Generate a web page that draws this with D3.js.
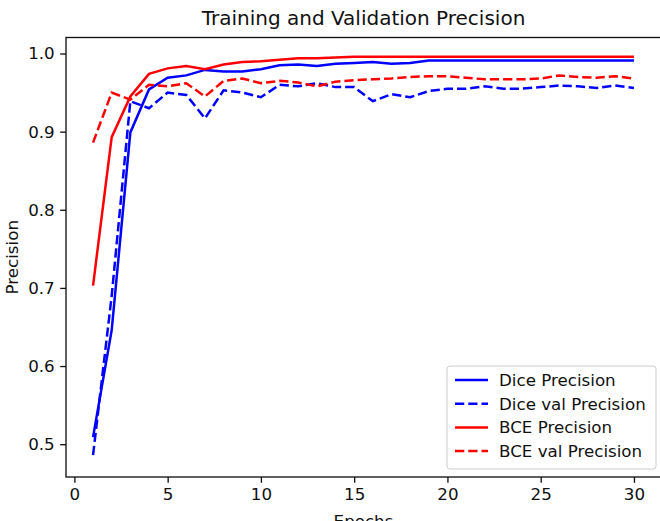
<!DOCTYPE html>
<html>
<head>
<meta charset="utf-8">
<script src="https://cdn.jsdelivr.net/npm/d3@7"></script>
<style>
  body { margin: 0; background: #fff; }
  text { font-family: "DejaVu Sans", sans-serif; fill: #111; }
</style>
</head>
<body>
<svg id="chart" width="660" height="521"></svg>
<script>
// values, one per epoch
var epochs = d3.range(1, 31);
var dice_train = [0.509, 0.646, 0.899, 0.954, 0.969, 0.972, 0.979, 0.977, 0.977, 0.980,
                  0.985, 0.986, 0.984, 0.987, 0.988, 0.989, 0.987, 0.988, 0.991, 0.991,
                  0.991, 0.991, 0.991, 0.991, 0.991, 0.991, 0.991, 0.991, 0.991, 0.991];
var dice_val = [0.486, 0.690, 0.939, 0.930, 0.950, 0.947, 0.917, 0.953, 0.950, 0.944,
                0.960, 0.958, 0.962, 0.957, 0.957, 0.939, 0.948, 0.944, 0.952, 0.955,
                0.955, 0.958, 0.955, 0.955, 0.957, 0.959, 0.958, 0.956, 0.959, 0.956];
var bce_train = [0.703, 0.893, 0.945, 0.974, 0.981, 0.984, 0.980, 0.986, 0.989, 0.990,
                 0.992, 0.994, 0.994, 0.995, 0.996, 0.996, 0.996, 0.996, 0.996, 0.996,
                 0.996, 0.996, 0.996, 0.996, 0.996, 0.996, 0.996, 0.996, 0.996, 0.996];
var bce_val = [0.886, 0.950, 0.941, 0.960, 0.958, 0.962, 0.945, 0.965, 0.968, 0.962,
               0.965, 0.963, 0.958, 0.964, 0.966, 0.967, 0.968, 0.970, 0.971, 0.971,
               0.969, 0.967, 0.967, 0.967, 0.968, 0.972, 0.970, 0.969, 0.971, 0.968];
var x_ticks = [0, 5, 10, 15, 20, 25, 30];
var y_ticks = [0.5, 0.6, 0.7, 0.8, 0.9, 1.0];

var series = [
    {name: "Dice Precision", values: dice_train, color: "#0000ff", dash: null},
    {name: "Dice val Precision", values: dice_val, color: "#0000ff", dash: "9.25,4"},
    {name: "BCE Precision", values: bce_train, color: "#ff0000", dash: null},
    {name: "BCE val Precision", values: bce_val, color: "#ff0000", dash: "9.25,4"}
];

var svg = d3.select("#chart");
// plot box (right edge falls just outside the picture)
var box_left = 66, box_right = 661, box_top = 37.5, box_bottom = 477;
var font = 16.7;

var xs = d3.scaleLinear().domain([-0.45, 31.45]).range([box_left, box_right]);
var ys = d3.scaleLinear().domain([0.458, 1.0205]).range([box_bottom, box_top]);

// title and axis labels
svg.append("text")
    .attr("x", (box_left + box_right) / 2)
    .attr("y", 25)
    .attr("text-anchor", "middle")
    .style("font-size", "20px")
    .text("Training and Validation Precision");

svg.append("text")
    .attr("transform", "translate(18," + ((box_top + box_bottom) / 2) + ") rotate(-90)")
    .attr("text-anchor", "middle")
    .style("font-size", font + "px")
    .text("Precision");

svg.append("text")
    .attr("x", (box_left + box_right) / 2)
    .attr("y", 527)
    .attr("text-anchor", "middle")
    .style("font-size", font + "px")
    .text("Epochs");

// lines
var line = function(vals) {
    return d3.line()
        .x(function(d, i) { return xs(epochs[i]); })
        .y(function(d) { return ys(d); })(vals);
};

svg.append("g")
    .selectAll("path")
    .data(series)
    .enter()
    .append("path")
        .attr("d", function(d) { return line(d.values); })
        .attr("fill", "none")
        .attr("stroke", function(d) { return d.color; })
        .attr("stroke-width", 2.5)
        .attr("stroke-dasharray", function(d) { return d.dash; });

// axes
var xAxis = d3.axisBottom(xs).tickValues(x_ticks).tickSize(5.8).tickPadding(5.5);
var yAxis = d3.axisLeft(ys).tickValues(y_ticks).tickSize(5.8).tickPadding(5.5)
    .tickFormat(d3.format(".1f"));

var gx = svg.append("g")
    .attr("transform", "translate(0," + box_bottom + ")")
    .call(xAxis);
var gy = svg.append("g")
    .attr("transform", "translate(" + box_left + ",0)")
    .call(yAxis);

[gx, gy].forEach(function(g) {
    g.select(".domain").remove();
    g.selectAll("line").attr("stroke", "#111").attr("stroke-width", 1.33);
    g.selectAll("text").style("font-size", font + "px").style("font-family", "DejaVu Sans").attr("fill", "#111");
});

// frame
svg.append("rect")
    .attr("x", box_left)
    .attr("y", box_top)
    .attr("width", box_right - box_left)
    .attr("height", box_bottom - box_top)
    .attr("fill", "none")
    .attr("stroke", "#111")
    .attr("stroke-width", 1.33);

// legend
var legend = svg.append("g").attr("transform", "translate(447,366)");
legend.append("rect")
    .attr("width", 209)
    .attr("height", 103)
    .attr("rx", 3)
    .attr("fill", "#fff")
    .attr("fill-opacity", 0.8)
    .attr("stroke", "#cccccc");

var items = legend.selectAll("g.item")
    .data(series)
    .enter()
    .append("g")
        .attr("transform", function(d, i) { return "translate(0," + (14 + i * 23.7) + ")"; });

items.append("line")
    .attr("x1", 8)
    .attr("x2", 41)
    .attr("stroke", function(d) { return d.color; })
    .attr("stroke-width", 2.5)
    .attr("stroke-dasharray", function(d) { return d.dash; });

items.append("text")
    .attr("x", 52)
    .attr("y", 6)
    .style("font-size", font + "px")
    .text(function(d) { return d.name; });
</script>
</body>
</html>
